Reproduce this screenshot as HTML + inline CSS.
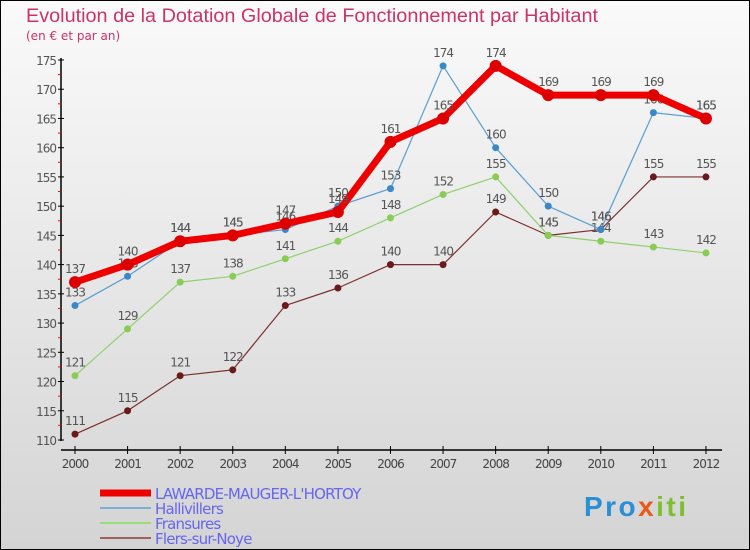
<!DOCTYPE html>
<html><head><meta charset="utf-8"><style>
body{margin:0}
#c{width:750px;height:550px;position:relative;overflow:hidden;font-family:"DejaVu Sans","Liberation Sans",sans-serif}
</style></head><body>
<div id="c">
<svg id="s" width="750" height="550" xmlns="http://www.w3.org/2000/svg">
<defs><linearGradient id="bg" x1="0" y1="0" x2="0" y2="1"><stop offset="0" stop-color="#fafafa"/><stop offset="1" stop-color="#d4d4d4"/></linearGradient></defs>
<rect x="0.5" y="0.5" width="749" height="549" fill="url(#bg)" stroke="#000"/>
<text x="26" y="22" font-size="19" fill="#cc3366" font-family="Liberation Sans,sans-serif" textLength="572" lengthAdjust="spacingAndGlyphs">Evolution de la Dotation Globale de Fonctionnement par Habitant</text>
<text x="26" y="40" font-size="12" fill="#cc3366">(en € et par an)</text>
<g id="axes"></g><g id="series"></g><g id="legend"></g>
<text x="584" y="516" font-size="28" font-weight="bold" font-family="Liberation Sans,sans-serif" textLength="102" lengthAdjust="spacing"><tspan fill="#2a8fd6">Pro</tspan><tspan fill="#e85a1a">x</tspan><tspan fill="#7cc030">iti</tspan></text>
</svg>
</div>
<script>
const years=[2000,2001,2002,2003,2004,2005,2006,2007,2008,2009,2010,2011,2012];
const lawarde=[137,140,144,145,147,149,161,165,174,169,169,169,165];
const hallivillers=[133,138,144,145,146,150,153,174,160,150,146,166,165];
const fransures=[121,129,137,138,141,144,148,152,155,145,144,143,142];
const flers=[111,115,121,122,133,136,140,140,149,145,146,155,155];
const yTicks=[110,115,120,125,130,135,140,145,150,155,160,165,170,175];
const NS="http://www.w3.org/2000/svg";
const X=i=>75+i*52.58;
const Y=v=>440-(v-110)*380/65;
function mk(t,a,p){const e=document.createElementNS(NS,t);for(const k in a)e.setAttribute(k,a[k]);p.appendChild(e);return e;}
const ax=document.getElementById('axes');
mk('line',{x1:61,y1:58,x2:61,y2:441,stroke:'#000','stroke-width':1.5},ax);
mk('line',{x1:61,y1:450,x2:722,y2:450,stroke:'#000','stroke-width':1.5},ax);
yTicks.forEach(v=>{
 mk('line',{x1:58,y1:Y(v),x2:64,y2:Y(v),stroke:'#000'},ax);
 if(v<175)mk('line',{x1:58,y1:Y(v+2.5),x2:61,y2:Y(v+2.5),stroke:'#f00'},ax);
 const t=mk('text',{x:56,y:Y(v)+5,'text-anchor':'end','font-size':12,fill:'#555','letter-spacing':-1},ax);
 t.textContent=v;
 
 
});
years.forEach((y,i)=>{
 mk('line',{x1:X(i),y1:446,x2:X(i),y2:454,stroke:'#000'},ax);
 const t=mk('text',{x:X(i),y:468,'text-anchor':'middle','font-size':12,fill:'#444','letter-spacing':-1},ax);
 t.textContent=y;
 
 
});
const sg=document.getElementById('series');
const series=[
 {d:flers,c:'#7a3030',dot:'#6b1a1a',w:1.2,r:3.5,n:'flers-sur-noye'},
 {d:fransures,c:'#8fd070',dot:'#88cc55',w:1.2,r:3.5,n:'fransures'},
 {d:hallivillers,c:'#5a9ed0',dot:'#3a88c8',w:1.2,r:3.5,n:'hallivillers'},
 {d:lawarde,c:'#ee0000',dot:'#dd0000',w:7,r:6,n:'lawarde-mauger-lhortoy'}
];
series.forEach(s=>{
 const g=mk('g',{},sg);
 
 
 const pts=s.d.map((v,i)=>X(i)+','+Y(v)).join(' ');
 mk('polyline',{points:pts,fill:'none',stroke:s.c,'stroke-width':s.w,'stroke-linejoin':'round'},g);
 s.d.forEach((v,i)=>{
  const c=mk('circle',{cx:X(i),cy:Y(v),r:s.r,fill:s.dot},g);
  
  
  const t=mk('text',{x:X(i),y:Y(v)-9,'text-anchor':'middle','font-size':12,fill:'#555','letter-spacing':-1},g);
  t.textContent=v;
  
  
 });
});
const lg=document.getElementById('legend');
const L=[['LAWARDE-MAUGER-L\'HORTOY','#ee0000',7],['Hallivillers','#7ab0d8',2],['Fransures','#99dd77',2],['Flers-sur-Noye','#a06060',2]];
L.forEach((l,i)=>{
 const y=493+i*15;
 const g=mk('g',{},lg);
 
 
 mk('line',{x1:100,y1:y,x2:151,y2:y,stroke:l[1],'stroke-width':l[2]},g);
 const t=mk('text',{x:155,y:y+6,'font-size':15,fill:'#6666ee','letter-spacing':-0.8},g);
 t.textContent=l[0];
});
</script>
</body></html>
